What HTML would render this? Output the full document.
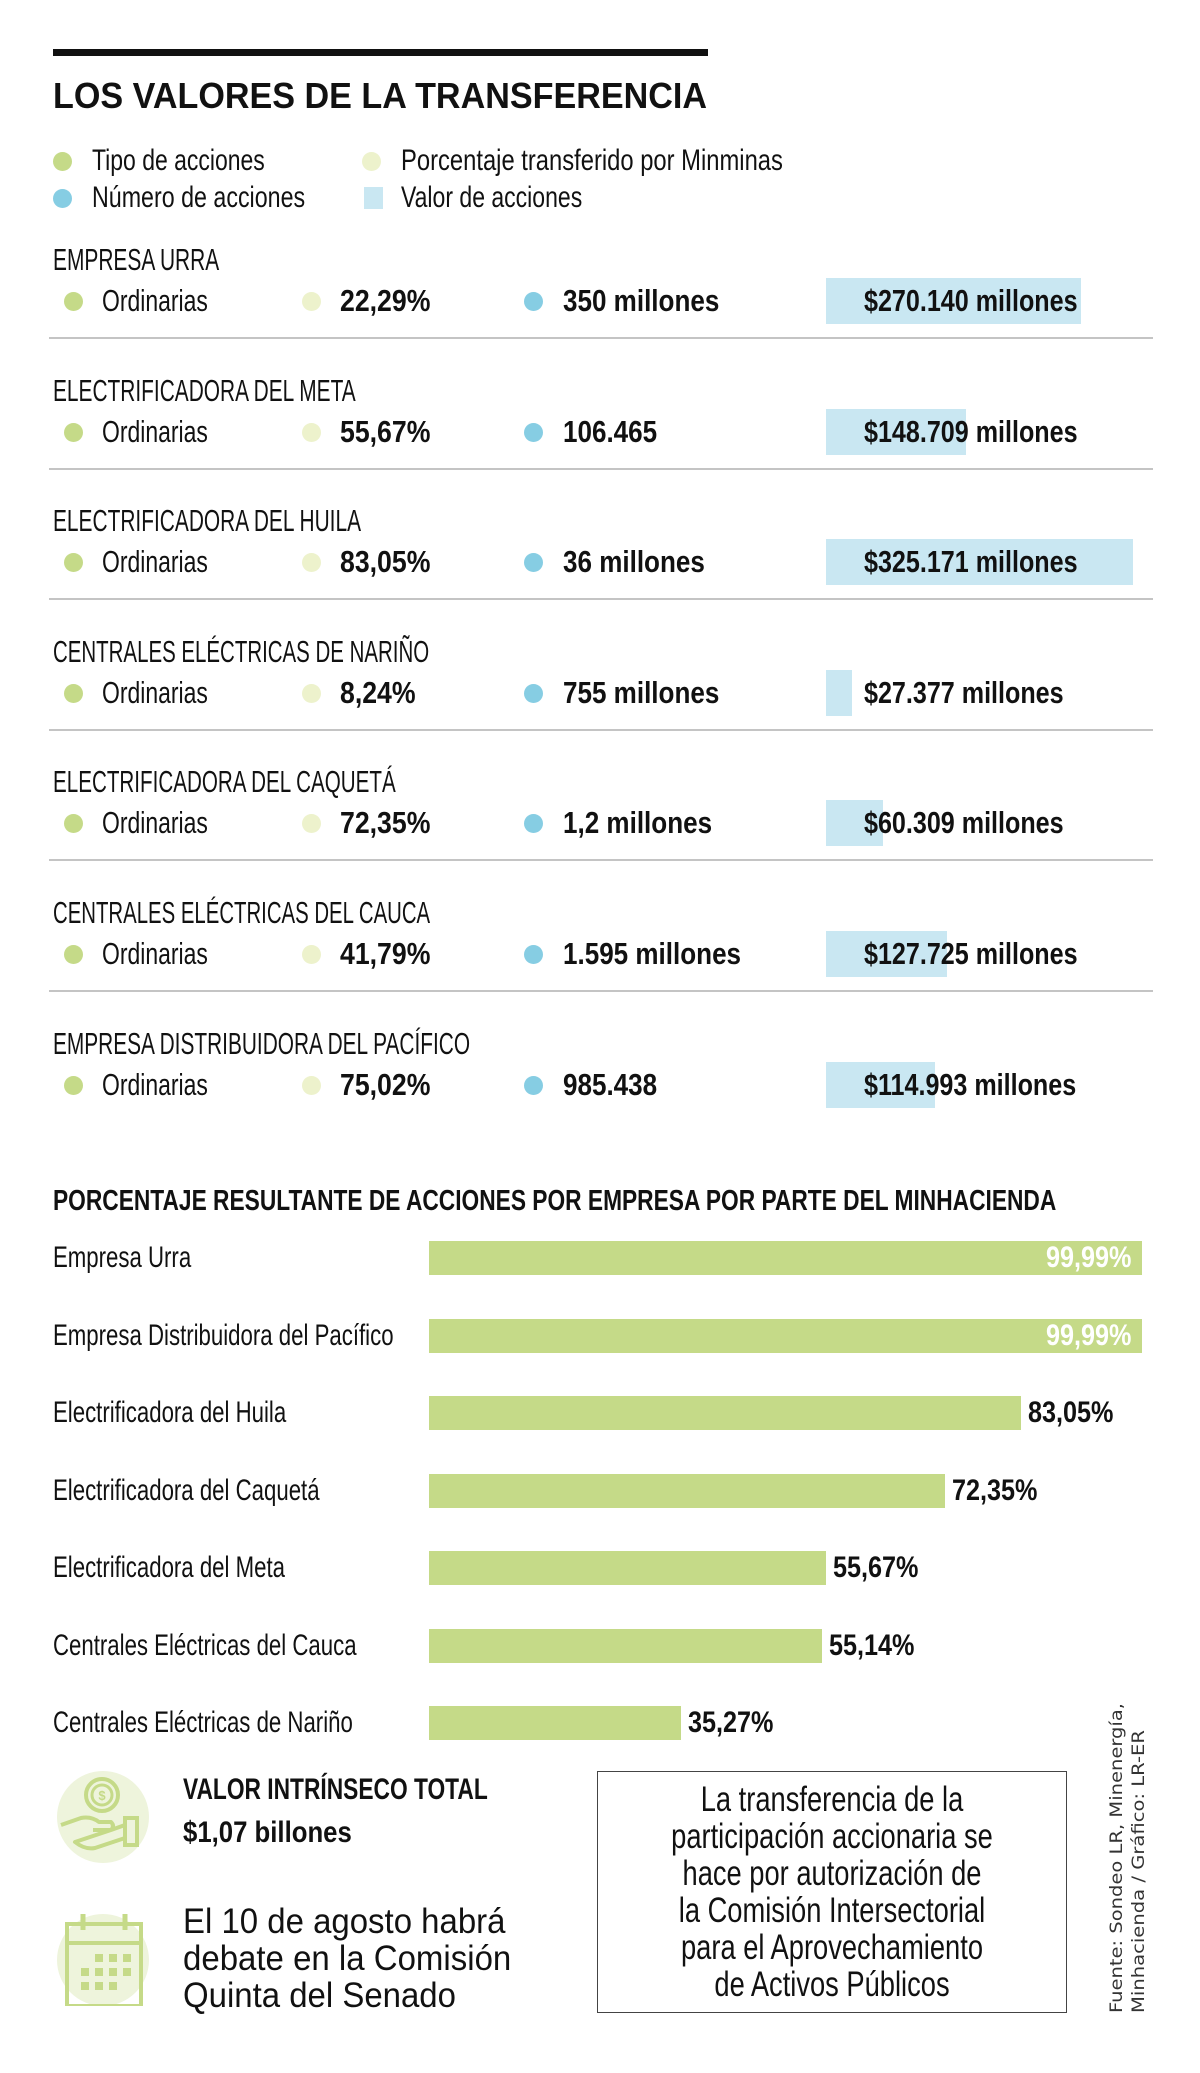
<!DOCTYPE html>
<html><head><meta charset="utf-8">
<style>
html,body{margin:0;padding:0;background:#fff;}
#root{position:relative;width:1200px;height:2073px;overflow:hidden;background:#fff;font-family:"Liberation Sans",sans-serif;color:#111;}
.t{position:absolute;white-space:nowrap;display:inline-block;transform-origin:left center;line-height:1;}
.b{font-weight:bold;}
.dot{position:absolute;width:19px;height:19px;border-radius:50%;}
.sep{position:absolute;left:49px;width:1104px;height:2px;background:#c4c4c4;}
</style></head><body>
<div id="root">
  <div style="position:absolute;left:53px;top:49px;width:655px;height:7px;background:#111;"></div>
  <div class="t b" data-w="654" style="left:53px;top:78px;font-size:36px;">LOS VALORES DE LA TRANSFERENCIA</div>

  <div class="dot" style="left:53px;top:152px;background:#c5da88;"></div>
  <div class="t" data-w="173" style="left:92px;top:146px;font-size:30px;">Tipo de acciones</div>
  <div class="dot" style="left:362px;top:152px;background:#edf2cc;"></div>
  <div class="t" data-w="382" style="left:401px;top:146px;font-size:30px;">Porcentaje transferido por Minminas</div>
  <div class="dot" style="left:53px;top:189px;background:#86cde3;"></div>
  <div class="t" data-w="213" style="left:92px;top:183px;font-size:30px;">Número de acciones</div>
  <div style="position:absolute;left:364px;top:187px;width:19px;height:22px;background:#c9e7f2;"></div>
  <div class="t" data-w="181" style="left:401px;top:183px;font-size:30px;">Valor de acciones</div>

  <div id="rows"></div>

  <div class="t b" data-w="1003" style="left:53px;top:1187px;font-size:29px;">PORCENTAJE RESULTANTE DE ACCIONES POR EMPRESA POR PARTE DEL MINHACIENDA</div>
  <div id="bars"></div>

  <svg style="position:absolute;left:55px;top:1770px;" width="96" height="96" viewBox="0 0 96 96">
    <circle cx="48" cy="47" r="46" fill="#eef4dc"/>
    <circle cx="47" cy="25" r="16" fill="none" stroke="#c5da88" stroke-width="4"/>
    <circle cx="47" cy="25" r="10" fill="none" stroke="#c5da88" stroke-width="3"/>
    <text x="47" y="30" text-anchor="middle" font-size="13" font-weight="bold" fill="#c5da88" font-family="Liberation Sans">$</text>
    <path d="M6 55 L26 48 Q36 46 44 52 L56 52 Q60 56 56 60 L38 60 M56 60 L70 55 L70 68 L40 78 Q30 80 20 72 Z" fill="none" stroke="#c5da88" stroke-width="4" stroke-linejoin="round"/>
    <rect x="70" y="48" width="12" height="27" fill="none" stroke="#c5da88" stroke-width="4"/>
  </svg>
  <div class="t b" data-w="305" style="left:183px;top:1775px;font-size:30px;">VALOR INTRÍNSECO TOTAL</div>
  <div class="t b" data-w="169" style="left:183px;top:1818px;font-size:30px;">$1,07 billones</div>

  <svg style="position:absolute;left:55px;top:1910px;" width="96" height="96" viewBox="0 0 96 96">
    <circle cx="48" cy="50" r="46" fill="#eef4dc"/>
    <rect x="12" y="14" width="74" height="82" fill="none" stroke="#c5da88" stroke-width="4"/>
    <line x1="12" y1="33" x2="86" y2="33" stroke="#c5da88" stroke-width="4"/>
    <line x1="28" y1="4" x2="28" y2="20" stroke="#c5da88" stroke-width="5"/>
    <line x1="70" y1="4" x2="70" y2="20" stroke="#c5da88" stroke-width="5"/>
    <g fill="#c5da88">
      <rect x="40" y="44" width="8" height="8"/><rect x="54" y="44" width="8" height="8"/><rect x="68" y="44" width="8" height="8"/>
      <rect x="26" y="58" width="8" height="8"/><rect x="40" y="58" width="8" height="8"/><rect x="54" y="58" width="8" height="8"/><rect x="68" y="58" width="8" height="8"/>
      <rect x="26" y="72" width="8" height="8"/><rect x="40" y="72" width="8" height="8"/><rect x="54" y="72" width="8" height="8"/>
    </g>
  </svg>
  <div class="t" data-w="322" style="left:183px;top:1904px;font-size:35px;">El 10 de agosto habrá</div>
  <div class="t" data-w="328" style="left:183px;top:1941px;font-size:35px;">debate en la Comisión</div>
  <div class="t" data-w="273" style="left:183px;top:1978px;font-size:35px;">Quinta del Senado</div>

  <div style="position:absolute;left:597px;top:1771px;width:468px;height:240px;border:1.5px solid #444;"></div>
  <div id="boxtext"></div>

  <svg style="position:absolute;left:1100px;top:1695px;" width="60" height="325" viewBox="0 0 60 325">
    <text transform="translate(22,318) rotate(-90)" font-family="DejaVu Sans, sans-serif" font-size="17" fill="#333" textLength="310" lengthAdjust="spacingAndGlyphs">Fuente: Sondeo LR, Minenergía,</text>
    <text transform="translate(44,318) rotate(-90)" font-family="DejaVu Sans, sans-serif" font-size="17" fill="#333" textLength="283" lengthAdjust="spacingAndGlyphs">Minhacienda / Gráfico: LR-ER</text>
  </svg>
</div>
<script>
// Company table data
const companies = ["EMPRESA URRA","ELECTRIFICADORA DEL META","ELECTRIFICADORA DEL HUILA","CENTRALES ELÉCTRICAS DE NARIÑO","ELECTRIFICADORA DEL CAQUETÁ","CENTRALES ELÉCTRICAS DEL CAUCA","EMPRESA DISTRIBUIDORA DEL PACÍFICO"];
const nameWidths = [166,303,308,376,343,377,417];
const shareTypes = ["Ordinarias","Ordinarias","Ordinarias","Ordinarias","Ordinarias","Ordinarias","Ordinarias"];
const pctLabels = ["22,29%","55,67%","83,05%","8,24%","72,35%","41,79%","75,02%"];
const numLabels = ["350 millones","106.465","36 millones","755 millones","1,2 millones","1.595 millones","985.438"];
const shareValues = [270140,148709,325171,27377,60309,127725,114993];
const valueLabels = ["$270.140 millones","$148.709 millones","$325.171 millones","$27.377 millones","$60.309 millones","$127.725 millones","$114.993 millones"];

// Bar chart data
const barCategories = ["Empresa Urra","Empresa Distribuidora del Pacífico","Electrificadora del Huila","Electrificadora del Caquetá","Electrificadora del Meta","Centrales Eléctricas del Cauca","Centrales Eléctricas de Nariño"];
const barValues = [99.99,99.99,83.05,72.35,55.67,55.14,35.27];
const barLabels = ["99,99%","99,99%","83,05%","72,35%","55,67%","55,14%","35,27%"];

const boxLines = ["La transferencia de la","participación accionaria se","hace por autorización de","la Comisión Intersectorial","para el Aprovechamiento","de Activos Públicos"];

function mk(parent, cls, text, css){
  const d=document.createElement('div');
  if(cls) d.className=cls;
  if(text!==undefined) d.textContent=text;
  d.style.cssText=css;
  parent.appendChild(d);
  return d;
}
const valScale = v => v * 255 / 270140;
const pctScale = p => p * 713 / 99.99;

const rows=document.getElementById('rows');
const rowStep=130.6, row0=260;
companies.forEach((c,i)=>{
  const cy=row0+i*rowStep, vy=cy+41;
  let e;
  e=mk(rows,'t',c,`left:53px;top:${cy-16}px;font-size:31px;`);
  e.setAttribute('data-w',nameWidths[i]);
  
  
  e=mk(rows,'',undefined,`position:absolute;left:826px;top:${vy-23}px;width:${valScale(shareValues[i])}px;height:46px;background:#c9e7f2;`);
  
  
  e=mk(rows,'dot',undefined,`left:64px;top:${vy-9}px;background:#c5da88;`);
  
  
  e=mk(rows,'t',shareTypes[i],`left:102px;top:${vy-16}px;font-size:31px;`);
  e.setAttribute('data-s','0.74');
  
  
  e=mk(rows,'dot',undefined,`left:302px;top:${vy-9}px;background:#edf2cc;`);
  
  
  e=mk(rows,'t b',pctLabels[i],`left:340px;top:${vy-16}px;font-size:31px;`);
  e.setAttribute('data-s','0.86');
  
  
  e=mk(rows,'dot',undefined,`left:524px;top:${vy-9}px;background:#86cde3;`);
  
  
  e=mk(rows,'t b',numLabels[i],`left:563px;top:${vy-16}px;font-size:31px;`);
  e.setAttribute('data-s','0.84');
  
  
  e=mk(rows,'t b',valueLabels[i],`left:864px;top:${vy-16}px;font-size:31px;`);
  e.setAttribute('data-s','0.81');
  
  
  if(i<companies.length-1){
    e=mk(rows,'sep',undefined,`top:${cy+77}px;`);
    
    
  }
});

const bars=document.getElementById('bars');
const bx=429, by0=1258, bstep=77.5, bh=34;
barCategories.forEach((c,i)=>{
  const cy=by0+i*bstep, w=pctScale(barValues[i]);
  let e;
  e=mk(bars,'t',c,`left:53px;top:${cy-15}px;font-size:30px;`);
  e.setAttribute('data-s','0.74');
  
  
  e=mk(bars,'',undefined,`position:absolute;left:${bx}px;top:${cy-bh/2}px;width:${w}px;height:${bh}px;background:#c5da88;`);
  
  
  const inside = barValues[i] > 95;
  e=mk(bars,'t b',barLabels[i],`left:${inside? bx+w-96 : bx+w+7}px;top:${cy-15}px;font-size:30px;color:${inside?'#fff':'#111'};`);
  e.setAttribute('data-s','0.84');
  
  
});

const bt=document.getElementById('boxtext');
boxLines.forEach((l,i)=>{
  const e=mk(bt,'',l,`position:absolute;left:597px;width:470px;text-align:center;top:${1781+i*37}px;font-size:35px;line-height:37px;white-space:nowrap;transform:scaleX(0.78);transform-origin:center;`);
  
  
});

document.querySelectorAll('#root .t').forEach(el=>{
  const w=el.getAttribute('data-w'), s=el.getAttribute('data-s');
  const nat=el.offsetWidth;
  const k = w ? (parseFloat(w)/nat) : (s ? parseFloat(s) : 0.74);
  el.style.transform=`scaleX(${k})`;
});
</script>
</body></html>
